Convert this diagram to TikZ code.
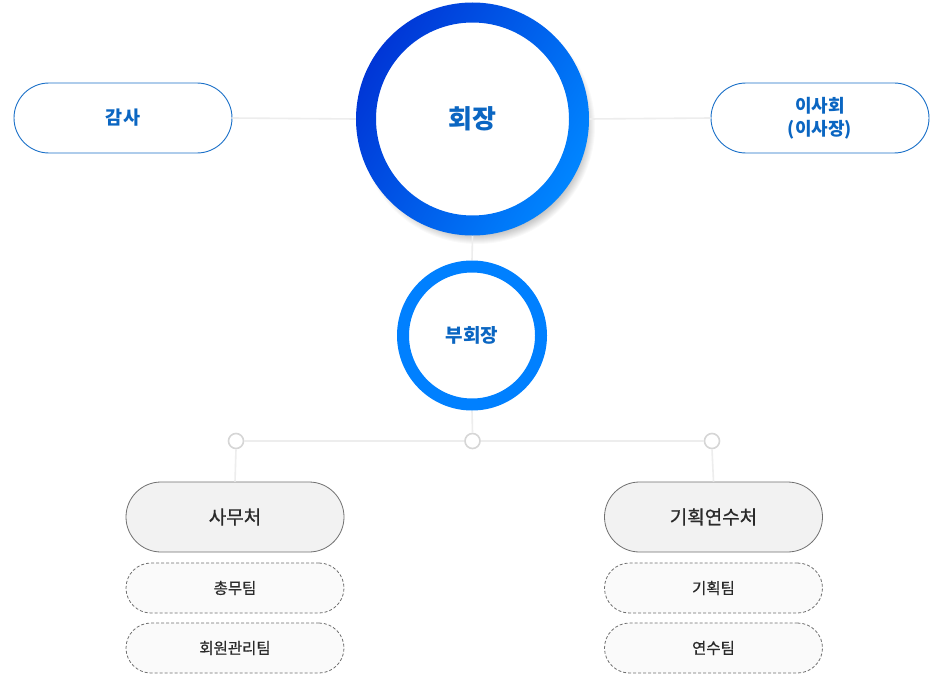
\documentclass[tikz,border=0pt]{standalone}
\usepackage{fontspec}
\setmainfont{Noto Sans CJK KR}
\definecolor{txtblue}{HTML}{0B66C2}
\definecolor{pillblue}{HTML}{1A70C8}
\definecolor{ringdark}{HTML}{0036D6}
\definecolor{ringlight}{HTML}{0085FF}
\definecolor{ringvp}{HTML}{0080FF}
\definecolor{connc}{HTML}{EDEDED}
\definecolor{dotc}{HTML}{D6D6D6}
\definecolor{greyfill}{HTML}{F2F2F2}
\definecolor{teamfill}{HTML}{FAFAFA}
\definecolor{greyline}{HTML}{707070}
\definecolor{greytxt}{HTML}{2A2A2A}
\tikzset{
  conn/.style={draw=connc, line width=1.6pt},
  bluepill/.style={rectangle, rounded corners=35pt, minimum width=218pt, minimum height=70pt, inner sep=0pt, draw=pillblue, line width=0.9pt, fill=white, text=txtblue, font=\fontsize{18.5}{22}\selectfont\bfseries, align=center},
  deptpill/.style={rectangle, rounded corners=35pt, minimum width=218pt, minimum height=70pt, inner sep=0pt, draw=greyline, line width=0.8pt, fill=greyfill, text=greytxt, font=\fontsize{19}{22}\selectfont\addfontfeature{FakeBold=0.8}},
  teampill/.style={rectangle, rounded corners=25pt, minimum width=218pt, minimum height=50pt, inner sep=0pt, draw=greyline, line width=0.8pt, dash pattern=on 3pt off 2pt, fill=teamfill, text=greytxt, font=\fontsize{15.5}{18}\selectfont\addfontfeature{FakeBold=0.8}},
  dotnode/.style={circle, minimum size=15pt, inner sep=0pt, draw=dotc, line width=1.6pt, fill=white},
  circnode/.style={circle, inner sep=0pt, text=txtblue},
}
\begin{document}
\begin{tikzpicture}[x=1pt,y=-1pt]
\useasboundingbox[fill=white] (0,0) rectangle (942,682);
% shadow of big circle
\foreach \i in {1,...,16}{
  \fill[black, opacity=0.022] (477,126) circle ({102+\i});
}
\coordinate (ceoc) at (472.5,119);
\node[circnode, minimum size=233pt] (ceo) at (ceoc) {};
\node[bluepill] (audit) at (123,118) {감사};
\node[bluepill, font=\fontsize{18}{23}\selectfont\bfseries] (board) at (820,118) {이사회\\(이사장)};
\node[circnode, minimum size=150pt] (vp) at (472,335.5) {};
\node[dotnode] (d1) at (236,441) {};
\node[dotnode] (d2) at (472.5,441) {};
\node[dotnode] (d3) at (712,441) {};
\node[deptpill] (office) at (235,517) {사무처};
\node[deptpill] (plan) at (713.5,517) {기획연수처};
\node[teampill] (t1) at (235,588) {총무팀};
\node[teampill] (t2) at (235,648) {회원관리팀};
\node[teampill] (t3) at (713.5,588) {기획팀};
\node[teampill] (t4) at (713.5,648) {연수팀};
\draw[conn] (audit.east) -- (ceo.west);
\draw[conn] (ceo.east) -- (board.west);
\draw[conn] (ceo.south) -- (vp.north);
\draw[conn] (vp.south) -- (d2.north);
\draw[conn] (d1.east) -- (d2.west);
\draw[conn] (d2.east) -- (d3.west);
\draw[conn] (d1.south) -- (office.north);
\draw[conn] (d3.south) -- (plan.north);
% big ring with gradient
\fill[white] (ceo.center) circle (100);
\shade[even odd rule, left color=ringdark, right color=ringlight, shading angle=60]
  (ceo.center) circle (116.5) (ceo.center) circle (96.5);
% vp ring
\fill[white] (vp.center) circle (66);
\fill[ringvp, even odd rule] (vp.center) circle (75) (vp.center) circle (63);
% labels
\node[text=txtblue, font=\fontsize{26}{30}\selectfont\bfseries] (ceolabel) at (ceo.center) {회장};
\node[text=txtblue, font=\fontsize{19}{22}\selectfont\bfseries] (vplabel) at (vp.center) {부회장};
\end{tikzpicture}
\end{document}
